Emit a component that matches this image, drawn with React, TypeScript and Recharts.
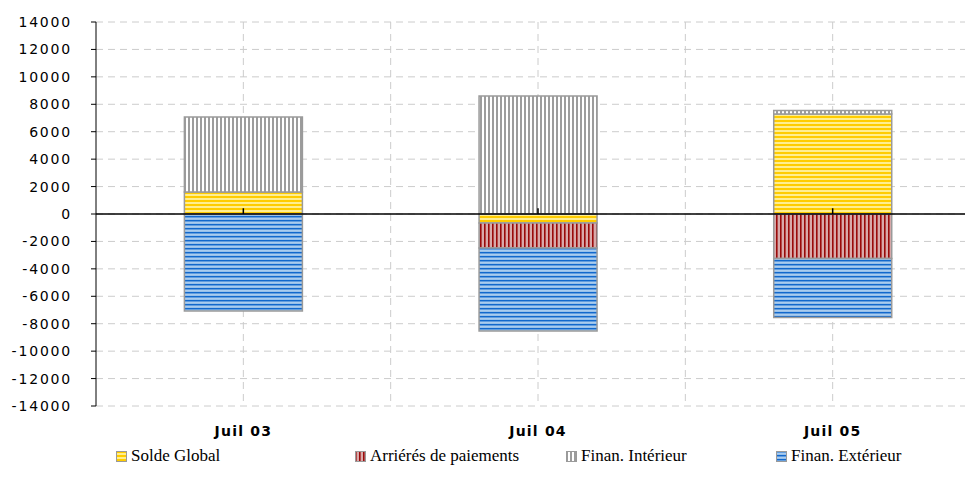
import { Bar, BarChart, CartesianGrid, ReferenceLine, XAxis, YAxis } from "recharts";

const categories = ["Juil 03", "Juil 04", "Juil 05"];
const soldeGlobal = [1600, -650, 7300];
const arrieres = [0, -1830, -3250];
const finInterieur = [5470, 8600, 250];
const finExterieur = [-7070, -6050, -4300];
const yTicks = [-14000, -12000, -10000, -8000, -6000, -4000, -2000, 0, 2000, 4000, 6000, 8000, 10000, 12000, 14000];

const series = [
  { key: "solde", name: "Solde Global", fill: "url(#pat-yellow)" },
  { key: "arrieres", name: "Arriérés de paiements", fill: "url(#pat-red)" },
  { key: "interieur", name: "Finan. Intérieur", fill: "url(#pat-gray)" },
  { key: "exterieur", name: "Finan. Extérieur", fill: "url(#pat-blue)" },
];

const data = categories.map((c, i) => ({
  cat: c,
  solde: soldeGlobal[i],
  arrieres: arrieres[i],
  interieur: finInterieur[i],
  exterieur: finExterieur[i],
}));

// legend column widths, roughly as in the original
const legendCols = [239, 211, 210, 180];

function Patterns() {
  return (
    <svg width={0} height={0} style={{ position: "absolute" }}>
      <defs>
        <pattern id="pat-yellow" width="4" height="4" patternUnits="userSpaceOnUse">
          <rect width="4" height="4" fill="#FFEE90" />
          <rect y="0" width="4" height="2" fill="#FFCC00" />
        </pattern>
        <pattern id="pat-red" width="4" height="4" patternUnits="userSpaceOnUse">
          <rect width="4" height="4" fill="#C98888" />
          <rect x="0" width="1.5" height="4" fill="#9A0A0A" />
          <rect x="2.6" width="0.8" height="4" fill="#F2DCDC" />
        </pattern>
        <pattern id="pat-gray" width="4" height="4" patternUnits="userSpaceOnUse">
          <rect width="4" height="4" fill="#FFFFFF" />
          <rect x="0" width="2" height="4" fill="#9C9C9C" />
        </pattern>
        <pattern id="pat-blue" width="4" height="4" patternUnits="userSpaceOnUse">
          <rect width="4" height="4" fill="#84B4E6" />
          <rect y="0" width="4" height="1.3" fill="#1268CC" />
          <rect y="2.6" width="4" height="0.6" fill="#E4F0FC" />
        </pattern>
      </defs>
    </svg>
  );
}

export default function App() {
  return (
    <div style={{ position: "absolute", left: 0, top: 0, width: 965, height: 490, overflow: "hidden", background: "#fff" }}>
      <Patterns />
      <BarChart
        width={990}
        height={490}
        data={data}
        stackOffset="sign"
        barCategoryGap="30%"
        margin={{ top: 22, right: 10, left: 6, bottom: 50 }}
      >
        <CartesianGrid
          stroke="#cccccc"
          strokeDasharray="7 5"
          verticalCoordinatesGenerator={({ offset }: any) => {
            const step = offset.width / (categories.length * 2);
            const pts: number[] = [];
            for (let i = 1; i < categories.length * 2; i++) pts.push(offset.left + i * step);
            return pts;
          }}
        />
        <XAxis
          dataKey="cat"
          axisLine={false}
          tickLine={false}
          tickSize={0}
          tickMargin={20}
          height={34}
          interval={0}
          tick={{ fill: "#000", fontSize: 14, fontWeight: "bold", fontFamily: "DejaVu Sans", letterSpacing: 1.2 }}
        />
        <YAxis
          type="number"
          domain={[-14000, 14000]}
          ticks={yTicks}
          interval={0}
          width={90}
          axisLine={{ stroke: "#000", strokeWidth: 1 }}
          tickLine={{ stroke: "#000" }}
          tickSize={5}
          tickMargin={19}
          tick={{ fill: "#000", fontSize: 14, fontFamily: "DejaVu Sans", letterSpacing: 1.8 }}
        />
        {series.map((s) => (
          <Bar
            key={s.key}
            dataKey={s.key}
            name={s.name}
            stackId="a"
            fill={s.fill}
            stroke="#9a9a9a"
            strokeWidth={1.5}
            isAnimationActive={false}
          />
        ))}
        <ReferenceLine y={0} stroke="#000" strokeWidth={1.5} />
        {categories.map((c) => (
          <ReferenceLine
            key={c}
            segment={[{ x: c, y: 0 }, { x: c, y: 420 }]}
            stroke="#000"
            strokeWidth={1.5}
          />
        ))}
      </BarChart>
      <div
        style={{
          position: "absolute",
          left: 116,
          top: 446,
          display: "flex",
          fontFamily: "'Liberation Serif', serif",
          fontSize: 17,
          color: "#000",
          whiteSpace: "nowrap",
        }}
      >
        {series.map((s, i) => (
          <div key={s.key} style={{ width: legendCols[i], display: "flex", alignItems: "center" }}>
            <svg width={11} height={11} style={{ marginRight: 4 }}>
              <rect x={0.5} y={0.5} width={10} height={10} fill={s.fill} stroke="#9a9a9a" strokeWidth={1} />
            </svg>
            <span>{s.name}</span>
          </div>
        ))}
      </div>
    </div>
  );
}
